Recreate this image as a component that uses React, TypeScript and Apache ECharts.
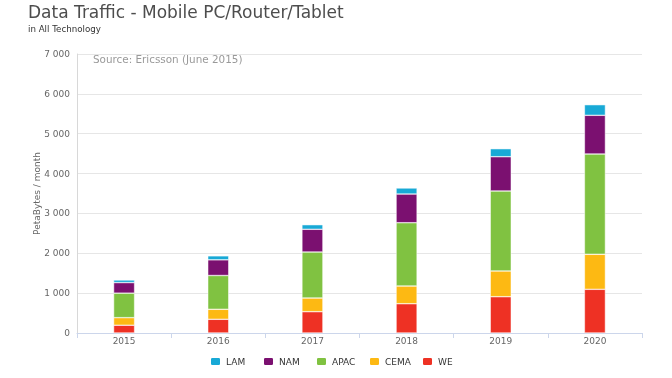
import React, { useEffect, useRef } from "react";
import * as echarts from "echarts";

const years = ["2015", "2016", "2017", "2018", "2019", "2020"];
const seriesNames = ["WE", "CEMA", "APAC", "NAM", "LAM"];
const legendOrder = ["LAM", "NAM", "APAC", "CEMA", "WE"];
const weValues = [195, 344, 535, 735, 911, 1096];
const cemaValues = [190, 251, 343, 444, 645, 879];
const apacValues = [615, 848, 1154, 1588, 2007, 2516];
const namValues = [265, 393, 570, 720, 860, 971];
const lamValues = [65, 100, 115, 151, 201, 266];
const colors = ["#ee3124", "#fdb913", "#80c241", "#7b1070", "#18a9d6"];

const FONT = "DejaVu Sans";

export default function App() {
  const ref = useRef<HTMLDivElement>(null);
  useEffect(() => {
    if (!ref.current) return;
    const chart = echarts.init(ref.current, null, { renderer: "svg" });
    const values = [weValues, cemaValues, apacValues, namValues, lamValues];
    chart.setOption({
      animation: false,
      textStyle: { fontFamily: FONT },
      title: [
        {
          text: "Data Traffic - Mobile PC/Router/Tablet",
          left: 28,
          top: 3,
          padding: 0,
          textStyle: { fontFamily: FONT, fontSize: 17, fontWeight: "normal", color: "#4d4d4d" },
        },
        {
          text: "in All Technology",
          left: 28,
          top: 24,
          padding: 0,
          textStyle: { fontFamily: FONT, fontSize: 8.7, fontWeight: "normal", color: "#333" },
        },
        {
          text: "Source: Ericsson (June 2015)",
          left: 93,
          top: 54,
          padding: 0,
          textStyle: { fontFamily: FONT, fontSize: 10.4, fontWeight: "normal", color: "#999" },
        },
      ],
      grid: { left: 77, right: 30, top: 54, bottom: 45, containLabel: false },
      legend: legendOrder.map((name, i) => ({
        data: [name],
        left: 209 + i * 53,
        top: 356,
        padding: 0,
        itemWidth: 11,
        itemHeight: 9,
        icon: "roundRect",
        textStyle: { fontFamily: FONT, fontSize: 9, color: "#333" },
      })),
      xAxis: {
        type: "category",
        data: years,
        axisLine: { lineStyle: { color: "#ccd6eb" } },
        axisTick: { show: true, length: 5, lineStyle: { color: "#ccd6eb" } },
        axisLabel: { fontFamily: FONT, fontSize: 9, color: "#666", margin: 3 },
      },
      yAxis: {
        type: "value",
        min: 0,
        max: 7000,
        interval: 1000,
        name: "PetaBytes / month",
        nameLocation: "middle",
        nameGap: 36,
        nameMoveOverlap: false,
        nameTextStyle: { fontFamily: FONT, fontSize: 9, color: "#666" },
        axisLine: { show: true, lineStyle: { color: "#d8d8d8" } },
        axisTick: { show: false },
        splitLine: { lineStyle: { color: "#e6e6e6" } },
        axisLabel: {
          fontFamily: FONT,
          fontSize: 9,
          color: "#666",
          margin: 7,
          formatter: (v: number) => String(v).replace(/\B(?=(\d{3})+(?!\d))/g, " "),
        },
      },
      series: seriesNames.map((name, i) => ({
        name,
        type: "bar",
        stack: "total",
        barWidth: 21,
        data: values[i],
        itemStyle: { color: colors[i], borderColor: "#fff", borderWidth: 0.5 },
      })),
    });
    return () => chart.dispose();
  }, []);
  return (
    <div
      ref={ref}
      style={{ width: 672, height: 378, position: "fixed", left: 0, top: 0 }}
    />
  );
}
